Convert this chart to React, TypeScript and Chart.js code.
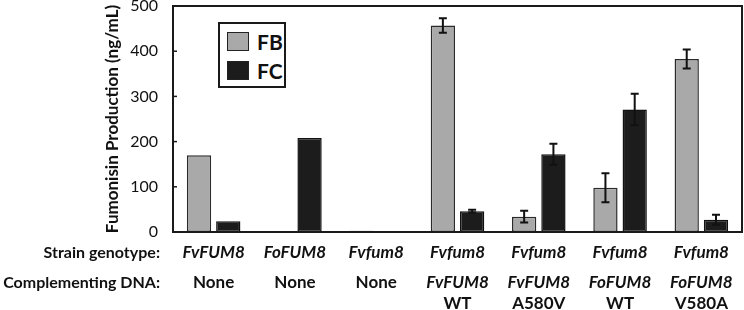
import React, { useEffect, useRef } from "react";
import { Chart, registerables } from "chart.js";

Chart.register(...registerables);

const strains = ["FvFUM8", "FoFUM8", "Fvfum8", "Fvfum8", "Fvfum8", "Fvfum8", "Fvfum8"];
const complementDNA = ["None", "None", "None", "FvFUM8", "FvFUM8", "FoFUM8", "FoFUM8"];
const complementVariant = ["", "", "", "WT", "A580V", "WT", "V580A"];
const fbValues = [170, 2, 3, 457, 34, 98, 383];
const fbErrors = [0, 0, 0, 16, 13, 32, 21];
const fcValues = [24, 208, 1, 46, 172, 271, 27];
const fcErrors = [0, 0, 0, 3, 23, 35, 11];
const yTicks = [0, 100, 200, 300, 400, 500];

const FONT = "Lato, 'Open Sans', sans-serif";

const decorPlugin = {
  id: "decor",
  afterDatasetsDraw(chart: any) {
    const { ctx, chartArea, scales } = chart;
    const y = scales.y;
    const x = scales.x;
    ctx.save();
    // error bars
    const errs = [fbErrors, fcErrors];
    const vals = [fbValues, fcValues];
    ctx.strokeStyle = "#111";
    ctx.lineWidth = 2;
    for (let d = 0; d < 2; d++) {
      const meta = chart.getDatasetMeta(d);
      meta.data.forEach((bar: any, i: number) => {
        const e = errs[d][i];
        if (!e) return;
        const cx = bar.x;
        const yt = y.getPixelForValue(vals[d][i] + e);
        const yb = y.getPixelForValue(vals[d][i] - e);
        ctx.beginPath();
        ctx.moveTo(cx, yt);
        ctx.lineTo(cx, yb);
        ctx.moveTo(cx - 4, yt);
        ctx.lineTo(cx + 4, yt);
        ctx.moveTo(cx - 4, yb);
        ctx.lineTo(cx + 4, yb);
        ctx.stroke();
      });
    }
    // frame
    ctx.strokeStyle = "#1a1a1a";
    ctx.lineWidth = 2;
    ctx.strokeRect(chartArea.left, chartArea.top, chartArea.right - chartArea.left, chartArea.bottom - chartArea.top);
    // inward tick marks
    ctx.lineWidth = 1.5;
    yTicks.forEach((t) => {
      const py = y.getPixelForValue(t);
      ctx.beginPath();
      ctx.moveTo(chartArea.left, py);
      ctx.lineTo(chartArea.left + 4, py);
      ctx.stroke();
    });
    // category labels
    ctx.fillStyle = "#111";
    ctx.textBaseline = "middle";
    ctx.textAlign = "right";
    ctx.font = `bold 16px ${FONT}`;
    const rowY1 = chartArea.bottom + 21;
    const rowY2 = chartArea.bottom + 51;
    const rowY3 = chartArea.bottom + 72;
    ctx.fillText("Strain genotype:", chartArea.left - 13, rowY1);
    ctx.fillText("Complementing DNA:", chartArea.left - 13, rowY2);
    ctx.textAlign = "center";
    strains.forEach((s, i) => {
      const px = x.getPixelForValue(i);
      ctx.font = `italic bold 17px ${FONT}`;
      ctx.fillText(s, px, rowY1);
      ctx.font = complementDNA[i] === "None" ? `bold 17px ${FONT}` : `italic bold 17px ${FONT}`;
      ctx.fillText(complementDNA[i], px, rowY2);
      if (complementVariant[i]) {
        ctx.font = `bold 17px ${FONT}`;
        ctx.fillText(complementVariant[i], px, rowY3);
      }
    });
    ctx.restore();
  },
};

export default function App() {
  const ref = useRef<HTMLCanvasElement>(null);
  useEffect(() => {
    document.body.style.margin = "0";
    const chart = new Chart(ref.current!, {
      type: "bar",
      data: {
        labels: strains.map((s, i) => `${s} ${complementDNA[i]} ${complementVariant[i]}`),
        datasets: [
          {
            label: "FB",
            data: fbValues,
            backgroundColor: "#a9a9a9",
            borderColor: "#2a2a2a",
            borderWidth: 1.5,
            borderSkipped: false,
            categoryPercentage: 0.72,
            barPercentage: 0.83,
          },
          {
            label: "FC",
            data: fcValues,
            backgroundColor: "#1c1c1c",
            borderColor: "#111",
            borderWidth: 1.5,
            borderSkipped: false,
            categoryPercentage: 0.72,
            barPercentage: 0.83,
          },
        ],
      },
      options: {
        animation: false,
        responsive: false,
        maintainAspectRatio: false,
        layout: { padding: { left: 102, top: 0, right: 2, bottom: 0 } },
        plugins: { legend: { display: false }, tooltip: { enabled: false } },
        scales: {
          x: {
            ticks: { display: false },
            grid: { display: false },
            border: { display: false },
            afterFit: (s: any) => {
              s.height = 78;
              s.paddingLeft = 0;
              s.paddingRight = 0;
            },
          },
          y: {
            min: 0,
            max: 500,
            ticks: { stepSize: 100, padding: 15, color: "#111", font: { family: FONT, size: 16 } },
            grid: { display: false, drawTicks: false },
            border: { display: false },
            title: {
              display: true,
              text: "Fumonisin Production (ng/mL)",
              color: "#111",
              font: { family: FONT, size: 17, weight: "bold" },
              padding: { top: 0, bottom: 0 },
            },
            afterFit: (s: any) => {
              s.width = 71;
              s.paddingTop = 6;
              s.paddingBottom = 0;
            },
          },
        },
      },
      plugins: [decorPlugin],
    });
    return () => chart.destroy();
  }, []);
  const sw: React.CSSProperties = { width: 20, height: 17, border: "1.5px solid #222", display: "inline-block", marginRight: 8 };
  const row: React.CSSProperties = { display: "flex", alignItems: "center", height: 29 };
  return (
    <div style={{ position: "relative", width: 744, height: 310 }}>
      <canvas ref={ref} width={744} height={310} style={{ display: "block" }} />
      <div
        style={{
          position: "absolute",
          left: 218,
          top: 22,
          width: 68,
          height: 66,
          border: "2px solid #1a1a1a",
          padding: "3px 0 0 7px",
          boxSizing: "border-box",
          fontFamily: FONT,
          fontWeight: "bold",
          fontSize: 21,
          color: "#111",
          background: "#fff",
        }}
      >
        <div style={row}>
          <span style={{ ...sw, background: "#a9a9a9" }} />
          FB
        </div>
        <div style={row}>
          <span style={{ ...sw, background: "#1c1c1c" }} />
          FC
        </div>
      </div>
    </div>
  );
}
